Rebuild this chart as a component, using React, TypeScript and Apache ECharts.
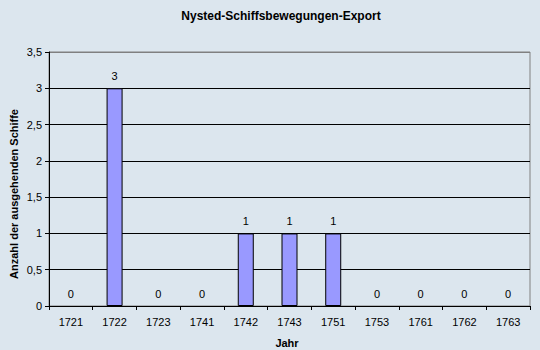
import React, { useEffect, useRef } from "react";
import * as echarts from "echarts";

const categories = ["1721", "1722", "1723", "1741", "1742", "1743", "1751", "1753", "1761", "1762", "1763"];
const values = [0, 3, 0, 0, 1, 1, 1, 0, 0, 0, 0];
const titleText = "Nysted-Schiffsbewegungen-Export";
const yName = "Anzahl der ausgehenden Schiffe";
const xName = "Jahr";

export default function App() {
  const ref = useRef<HTMLDivElement>(null);
  useEffect(() => {
    if (!ref.current) return;
    const chart = echarts.init(ref.current, null, { renderer: "svg" });
    const font = "Arial, 'Liberation Sans', sans-serif";
    chart.setOption({
      animation: false,
      backgroundColor: "#dce6ee",
      textStyle: { fontFamily: font },
      graphic: [
        {
          type: "text",
          x: 281,
          y: 16,
          style: { text: titleText, font: `bold 12px ${font}`, fill: "#000", textAlign: "center", textVerticalAlign: "middle" },
        },
        {
          type: "text",
          x: 14,
          y: 194,
          rotation: Math.PI / 2,
          style: { text: yName, font: `bold 11px ${font}`, fill: "#000", textAlign: "center", textVerticalAlign: "middle" },
        },
        {
          type: "text",
          x: 287,
          y: 343,
          style: { text: xName, font: `bold 11px ${font}`, fill: "#000", textAlign: "center", textVerticalAlign: "middle" },
        },
      ],
      grid: {
        left: 49,
        right: 10,
        top: 52,
        bottom: 44,
        show: true,
        backgroundColor: "transparent",
        borderColor: "#808080",
        borderWidth: 1,
      },
      xAxis: {
        type: "category",
        data: categories,
        axisLine: { lineStyle: { color: "#000", width: 1 } },
        axisTick: { show: true, alignWithLabel: false, length: 4, inside: false, lineStyle: { color: "#000" } },
        axisLabel: { color: "#000", fontSize: 11, fontFamily: font, margin: 10, interval: 0 },
      },
      yAxis: {
        type: "value",
        min: 0,
        max: 3.5,
        interval: 0.5,
        axisLine: { show: true, lineStyle: { color: "#000", width: 1 } },
        axisTick: { show: true, length: 4, lineStyle: { color: "#000" } },
        axisLabel: {
          color: "#000",
          fontSize: 11,
          fontFamily: font,
          margin: 7,
          formatter: (v: number) => String(v).replace(".", ","),
        },
        splitLine: {
          show: true,
          lineStyle: { color: ["#000", "#000", "#000", "#000", "#000", "#000", "#000", "#808080"], width: 1 },
        },
      },
      series: [
        {
          type: "bar",
          data: values.map((v) =>
            v === 0 ? { value: v, itemStyle: { borderWidth: 0, borderColor: "transparent", color: "transparent" } } : v
          ),
          barWidth: 16,
          itemStyle: { color: "#9999ff", borderColor: "#000", borderWidth: 1 },
          label: {
            show: true,
            position: "top",
            distance: 7,
            color: "#000",
            fontSize: 11,
            fontFamily: font,
            textBorderWidth: 0,
          },
        },
      ],
    });
    return () => chart.dispose();
  }, []);
  return <div ref={ref} style={{ width: 540, height: 350, position: "absolute", left: 0, top: 0 }} />;
}
